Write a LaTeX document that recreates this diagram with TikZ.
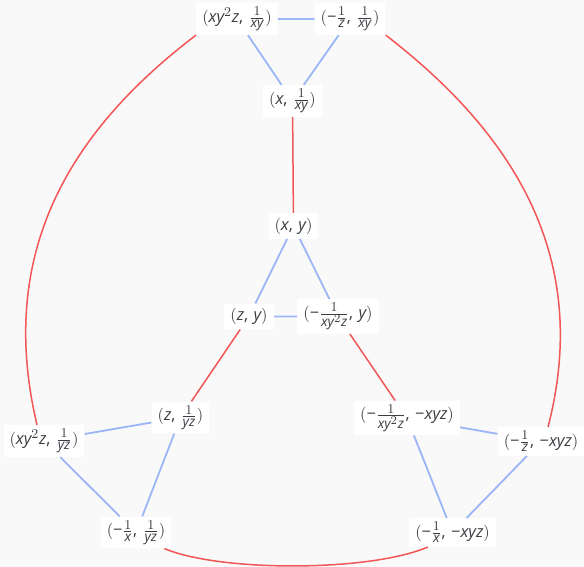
\documentclass[tikz,border=0pt]{standalone}
\usepackage{fontspec}
\setmainfont{Open Sans}
\usepackage[italic,unicodeminus]{mathastext}
\usepackage{tikz}
\usetikzlibrary{calc}
\usepackage{xcolor}
\definecolor{bgpaper}{HTML}{F9F9F9}
\definecolor{edgeblue}{HTML}{9BB6F7}
\definecolor{edgered}{HTML}{F25656}
\definecolor{labelgray}{HTML}{3A3D42}

\begin{document}
\begin{tikzpicture}[x=0.667pt, y=-0.667pt, font=\fontsize{11}{13}\selectfont,
    v/.style={fill=white, text=labelgray, inner xsep=4pt, inner ysep=2.5pt, minimum height=17pt},
    bl/.style={edgeblue, line width=1.2pt},
    rd/.style={edgered, line width=1pt}]
    \fill[bgpaper] (0,0) rectangle (584,567);
    \useasboundingbox (0,0) rectangle (584,567);
    % top triangle
    \node[v] (t1) at (237,19)    {$(xy^2z,\,\frac{1}{xy})$};
    \node[v] (t2) at (350,19)    {$(-\frac{1}{z},\,\frac{1}{xy})$};
    \node[v] (t3) at (292.5,101) {$(x,\,\frac{1}{xy})$};
    % middle triangle
    \node[v] (m1) at (293.5,226) {$(x,\,y)$};
    \node[v] (m2) at (249,316.5) {$(z,\,y)$};
    \node[v] (m3) at (338,316.5) {$(-\frac{1}{xy^2z},\,y)$};
    % left triangle
    \node[v] (l1) at (180.5,417.5) {$(z,\,\frac{1}{yz})$};
    \node[v] (l2) at (44,441)      {$(xy^2z,\,\frac{1}{yz})$};
    \node[v] (l3) at (136,532.5)   {$(-\frac{1}{x},\,\frac{1}{yz})$};
    % right triangle
    \node[v] (r1) at (407,418)     {$(-\frac{1}{xy^2z},\,-xyz)$};
    \node[v] (r2) at (541,441.5)   {$(-\frac{1}{z},\,-xyz)$};
    \node[v] (r3) at (452.5,532.5) {$(-\frac{1}{x},\,-xyz)$};
    \begin{scope}[on background layer/.try]
    \foreach \g in {t,m,l,r}
      \draw[bl] (\g1) -- (\g2) (\g1) -- (\g3) (\g2) -- (\g3);
    \draw[rd] (t3) -- (m1);
    \draw[rd] (m2) -- (l1);
    \draw[rd] (m3) -- (r1);
    \draw[rd] (t1.south west) .. controls (62,137) and (-2,260) .. ($(l2.north)+(-7,0)$);
    \draw[rd] (t2.south east) .. controls (522,140) and (590,265) .. ($(r2.north)+(7,0)$);
    \draw[rd] ($(l3.south east)+(-7,0)$) .. controls (220,572) and (370,572) .. ($(r3.south west)+(19,0)$);
    \end{scope}
\end{tikzpicture}
\end{document}
